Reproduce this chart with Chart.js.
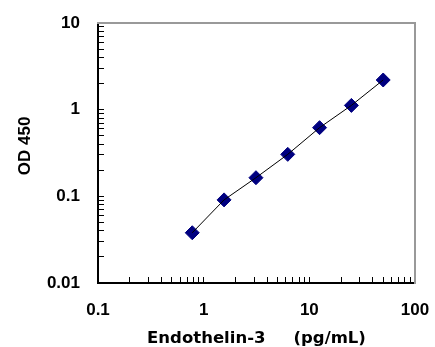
<!DOCTYPE html>
<html>
<head>
<meta charset="utf-8">
<script src="https://cdn.jsdelivr.net/npm/chart.js@4"></script>
<style>
    body { margin: 0; background: #fff; }
    #wrap { width: 435px; height: 347px; position: relative; }
</style>
</head>
<body>
<div id="wrap"><canvas id="odChart"></canvas></div>
<script>
// 濃度 (pg/mL) と OD450 の値
const concentrations = [0.78, 1.56, 3.125, 6.25, 12.5, 25, 50];
const odValues = [0.038, 0.091, 0.164, 0.305, 0.62, 1.12, 2.2];

// 目盛り（10のべき乗ごと）
const xDecades = [0.1, 1, 10, 100];
const yDecades = [0.01, 0.1, 1, 10];
const minorSteps = [1, 2, 3, 4, 5, 6, 7, 8, 9];

// 各桁の 1〜9 の目盛りを作る
function logTicks(decades) {
    const ticks = [];
    decades.forEach(function (d, i) {
        if (i === decades.length - 1) {
            ticks.push({ value: d });
        } else {
            minorSteps.forEach(s => ticks.push({ value: d * s }));
        }
    });
    return ticks;
}

const points = concentrations.map((c, i) => ({ x: c, y: odValues[i] }));

const tickFont = { family: "'Liberation Sans', Arial, sans-serif", size: 17, weight: 'bold' };

// 目盛りラベルのはみ出し分で描画エリアがずれないようにする
function noPadding(scale) {
    scale.paddingTop = 0;
    scale.paddingBottom = 0;
    scale.paddingLeft = 0;
    scale.paddingRight = 0;
}

const ctx = document.getElementById('odChart').getContext('2d');
const odChart = new Chart(ctx, {
    type: 'scatter',
    data: {
        datasets: [
            {
                // 線（マーカーの上に描く）
                data: points,
                xAxisID: 'x',
                yAxisID: 'y',
                showLine: true,
                borderColor: '#000000',
                borderWidth: 1,
                pointRadius: 0,
                order: 0
            },
            {
                // マーカー
                data: points,
                xAxisID: 'x',
                yAxisID: 'y',
                showLine: false,
                pointStyle: 'rectRot',
                pointRadius: 7,
                pointBorderWidth: 1,
                pointBackgroundColor: '#000080',
                pointBorderColor: '#000080',
                order: 1
            }
        ]
    },
    options: {
        responsive: true,
        maintainAspectRatio: false,
        animation: false,
        layout: { padding: { left: 0, right: 20, top: 23, bottom: 0 } },
        plugins: {
            legend: { display: false },
            tooltip: { enabled: false }
        },
        scales: {
            x: {
                type: 'logarithmic',
                position: 'bottom',
                min: 0.1,
                max: 100,
                afterBuildTicks: scale => { scale.ticks = logTicks(xDecades); },
                afterFit: scale => { scale.height = 64; noPadding(scale); },
                border: { display: true, color: '#000000', width: 2 },
                grid: { drawOnChartArea: false, drawTicks: true, tickLength: -6, tickColor: '#000000', tickWidth: 1 },
                ticks: {
                    autoSkip: false,
                    maxRotation: 0,
                    padding: 23,
                    color: '#000000',
                    font: tickFont,
                    callback: v => xDecades.includes(v) ? String(v) : ''
                },
                title: {
                    display: true,
                    text: 'Endothelin-3\u3000  (pg/mL)',
                    color: '#000000',
                    padding: { top: 0, bottom: 0 },
                    font: { family: "'DejaVu Sans', 'Noto Sans CJK JP', sans-serif", size: 16.5, weight: 'bold', lineHeight: 1 }
                }
            },
            y: {
                type: 'logarithmic',
                position: 'left',
                min: 0.01,
                max: 10,
                afterBuildTicks: scale => { scale.ticks = logTicks(yDecades); },
                afterFit: scale => { scale.width = 98; noPadding(scale); },
                border: { display: true, color: '#000000', width: 2 },
                grid: { drawOnChartArea: false, drawTicks: true, tickLength: -6, tickColor: '#000000', tickWidth: 1 },
                ticks: {
                    autoSkip: false,
                    padding: 24,
                    color: '#000000',
                    font: tickFont,
                    callback: v => yDecades.includes(v) ? String(v) : ''
                },
                title: {
                    display: true,
                    text: '   OD 450',
                    color: '#000000',
                    padding: { top: 17, bottom: 0 },
                    font: { family: "'Liberation Sans', Arial, sans-serif", size: 17, weight: 'bold', lineHeight: 1 }
                }
            },
            // 上と右の灰色の枠線
            x2: {
                type: 'linear',
                position: 'top',
                min: 0,
                max: 1,
                afterFit: scale => { scale.height = 0; noPadding(scale); },
                border: { display: true, color: '#999999', width: 2 },
                grid: { display: false },
                ticks: { display: false }
            },
            y2: {
                type: 'linear',
                position: 'right',
                min: 0,
                max: 1,
                afterFit: scale => { scale.width = 0; noPadding(scale); },
                border: { display: true, color: '#999999', width: 2 },
                grid: { display: false },
                ticks: { display: false }
            }
        }
    }
});
</script>
</body>
</html>
